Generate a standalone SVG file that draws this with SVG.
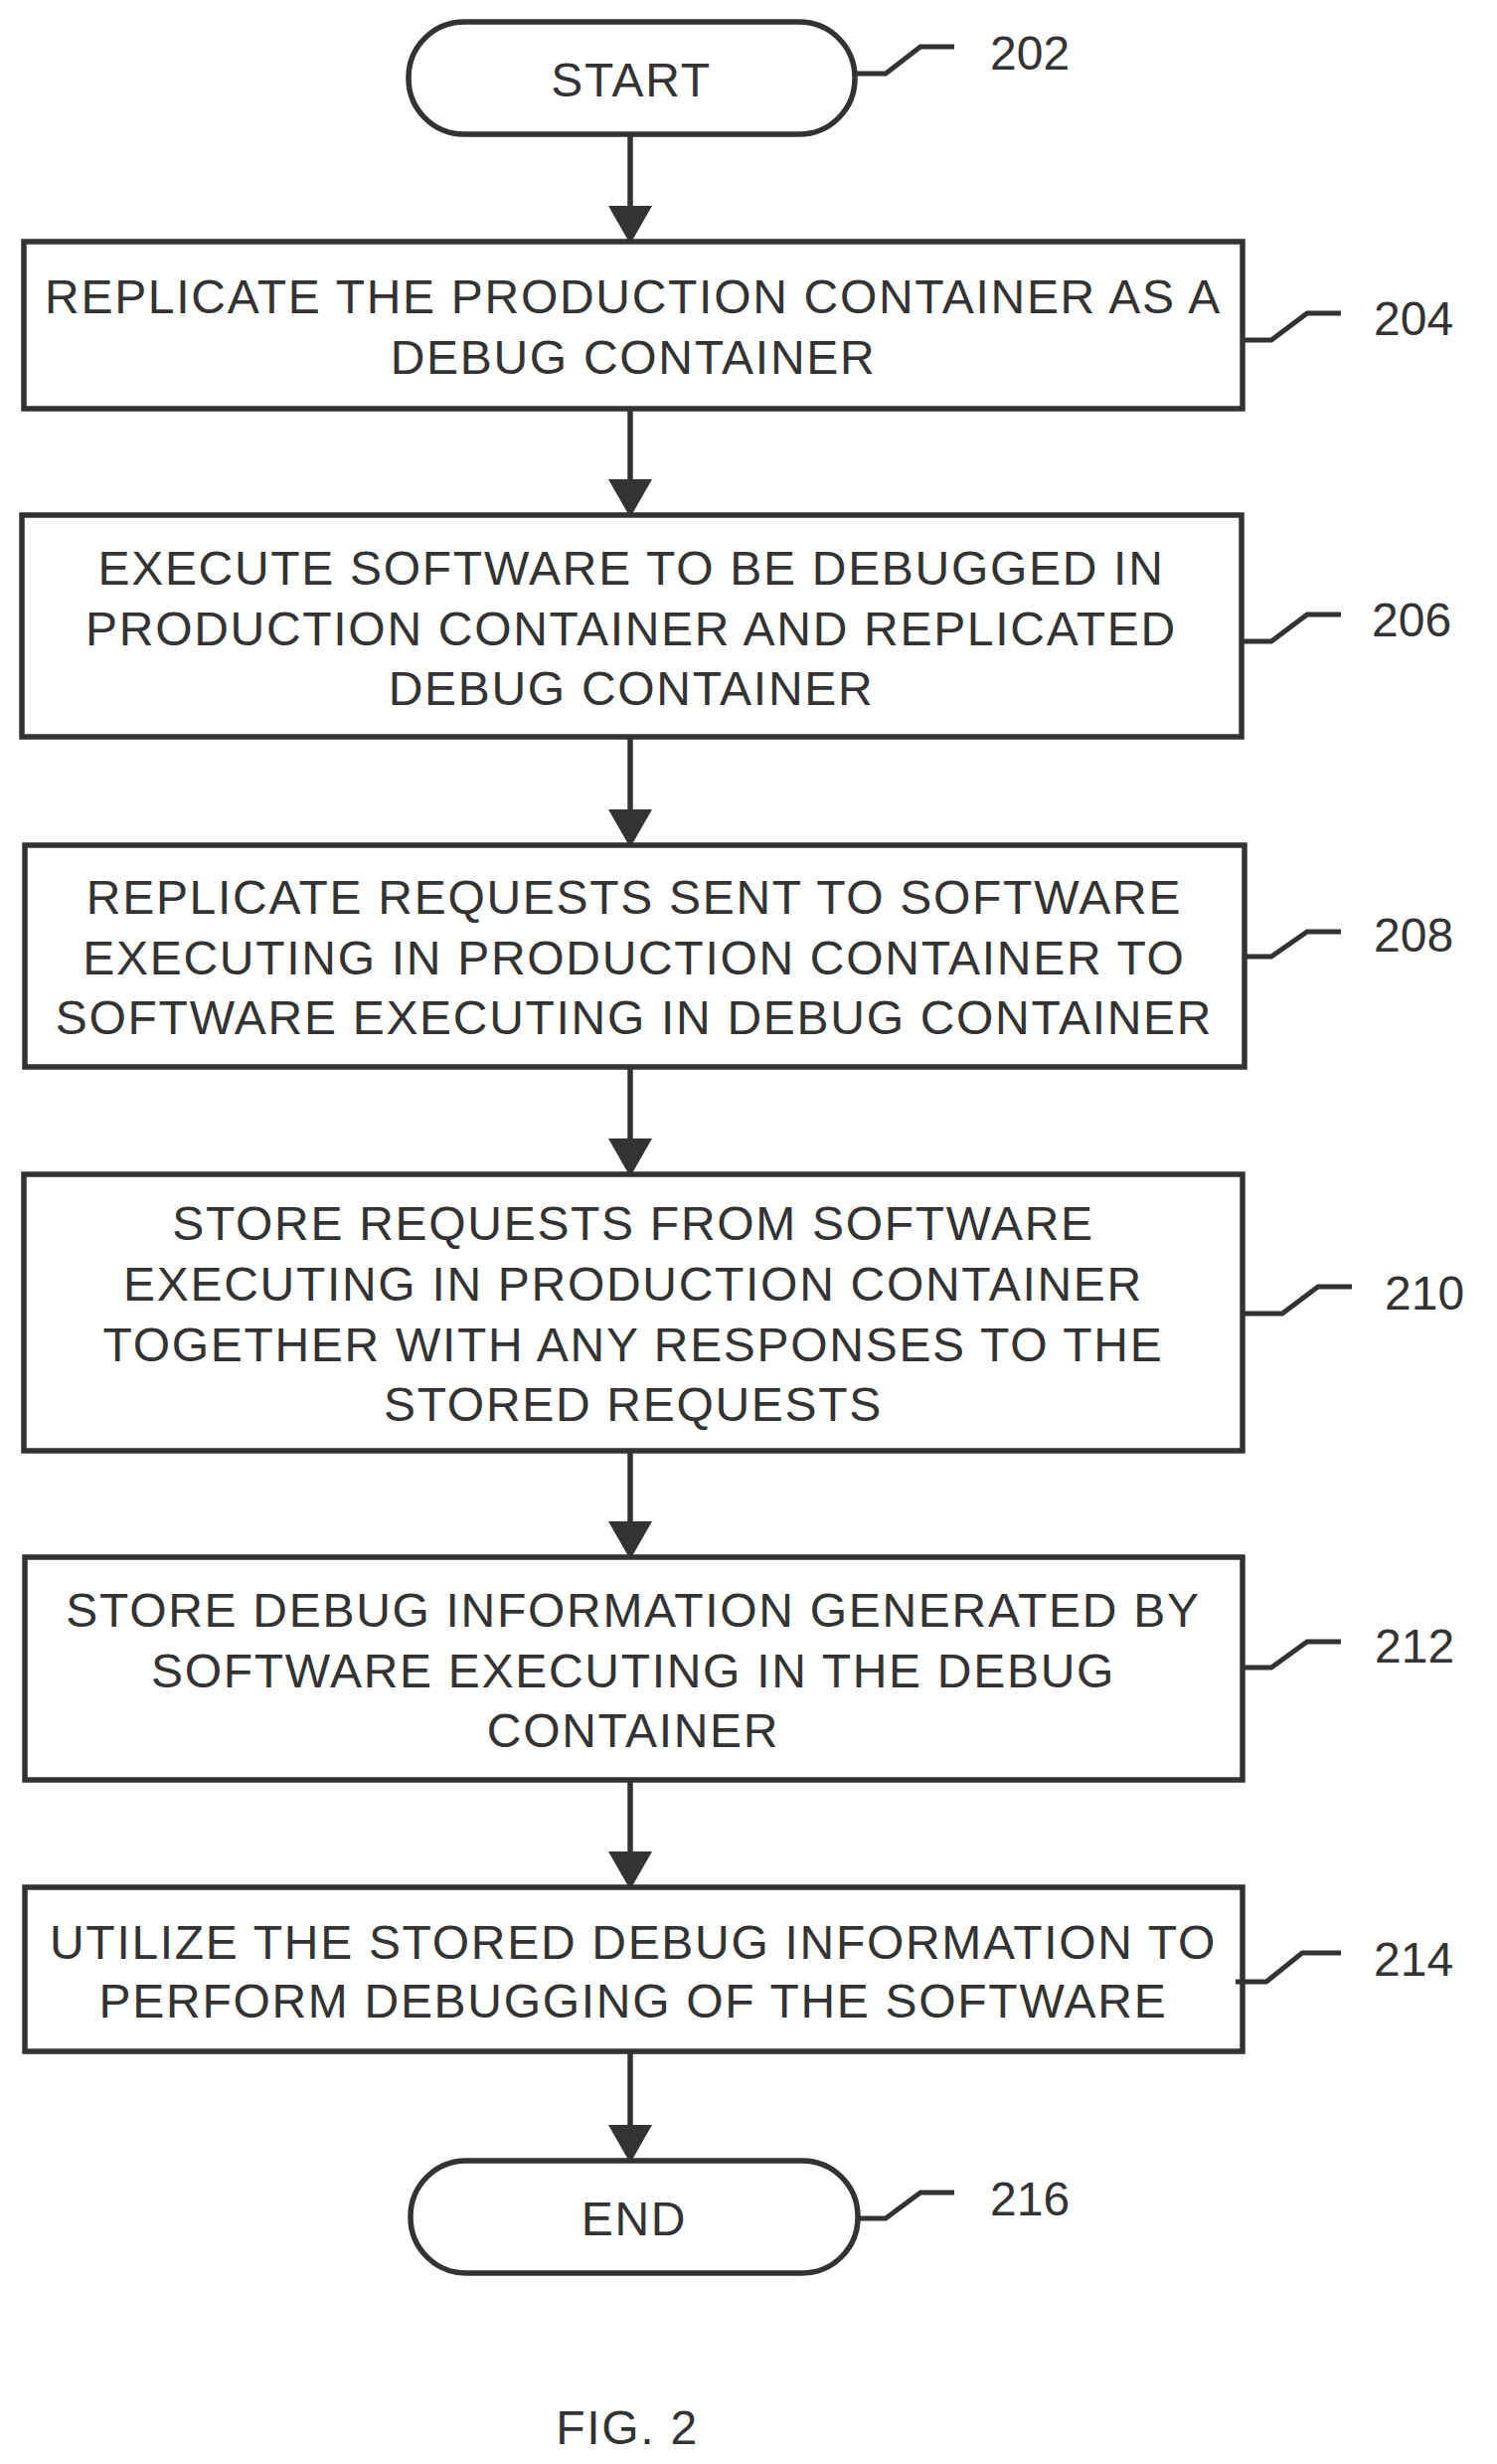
<svg xmlns="http://www.w3.org/2000/svg" width="1506" height="2478" viewBox="0 0 1506 2478">
<style>
.n{fill:#fff;stroke:#333;stroke-width:5.5}
.t{font-family:"Liberation Sans",Arial,sans-serif;font-size:48px;letter-spacing:1.7px;fill:#333;text-anchor:middle}
.l{font-family:"Liberation Sans",Arial,sans-serif;font-size:48px;fill:#333}
.c{fill:none;stroke:#333;stroke-width:5.5}
.ld{fill:none;stroke:#333;stroke-width:5}
</style>
<defs><marker id="a" markerWidth="8" markerHeight="8" refX="6" refY="4" orient="auto" markerUnits="strokeWidth"><path d="M0,0L7,4L0,8z" fill="#333"/></marker></defs>
<rect width="1506" height="2478" fill="#fff"/>
<g id="connectors">
<line class="c" x1="634" y1="135" x2="634" y2="240" marker-end="url(#a)"/>
<line class="c" x1="634" y1="411" x2="634" y2="515" marker-end="url(#a)"/>
<line class="c" x1="634" y1="741" x2="634" y2="847" marker-end="url(#a)"/>
<line class="c" x1="634" y1="1073" x2="634" y2="1178" marker-end="url(#a)"/>
<line class="c" x1="634" y1="1459" x2="634" y2="1563" marker-end="url(#a)"/>
<line class="c" x1="634" y1="1790" x2="634" y2="1895" marker-end="url(#a)"/>
<line class="c" x1="634" y1="2063" x2="634" y2="2170" marker-end="url(#a)"/>
</g>
<g id="n202"><rect class="n" x="411" y="22" width="449" height="113" rx="56"/><text class="t" x="635" y="97">START</text>
<polyline class="ld" points="860,74 891,74 926,47 960,47"/><text class="l" x="996" y="70">202</text></g>
<g id="n204"><rect class="n" x="24" y="243" width="1226" height="168"/><text class="t" x="637" y="315">REPLICATE THE PRODUCTION CONTAINER AS A</text><text class="t" x="637" y="376">DEBUG CONTAINER</text>
<polyline class="ld" points="1250,342 1279,342 1315,315 1349,315"/><text class="l" x="1382" y="337">204</text></g>
<g id="n206"><rect class="n" x="22" y="518" width="1227" height="223"/><text class="t" x="635" y="588">EXECUTE SOFTWARE TO BE DEBUGGED IN</text><text class="t" x="635" y="649">PRODUCTION CONTAINER AND REPLICATED</text><text class="t" x="635" y="709">DEBUG CONTAINER</text>
<polyline class="ld" points="1249,645 1279,645 1315,618 1349,618"/><text class="l" x="1380" y="640">206</text></g>
<g id="n208"><rect class="n" x="25" y="850" width="1227" height="223"/><text class="t" x="638" y="919">REPLICATE REQUESTS SENT TO SOFTWARE</text><text class="t" x="638" y="980">EXECUTING IN PRODUCTION CONTAINER TO</text><text class="t" x="638" y="1040">SOFTWARE EXECUTING IN DEBUG CONTAINER</text>
<polyline class="ld" points="1252,962 1279,962 1315,937 1349,937"/><text class="l" x="1382" y="957">208</text></g>
<g id="n210"><rect class="n" x="24" y="1181" width="1226" height="278"/><text class="t" x="637" y="1247">STORE REQUESTS FROM  SOFTWARE</text><text class="t" x="637" y="1308">EXECUTING IN PRODUCTION CONTAINER</text><text class="t" x="637" y="1369">TOGETHER WITH ANY RESPONSES TO THE</text><text class="t" x="637" y="1429">STORED REQUESTS</text>
<polyline class="ld" points="1250,1321 1290,1321 1326,1294 1360,1294"/><text class="l" x="1393" y="1317">210</text></g>
<g id="n212"><rect class="n" x="25" y="1566" width="1225" height="224"/><text class="t" x="637" y="1636">STORE DEBUG INFORMATION GENERATED BY</text><text class="t" x="637" y="1697">SOFTWARE EXECUTING IN THE DEBUG</text><text class="t" x="637" y="1757">CONTAINER</text>
<polyline class="ld" points="1250,1677 1279,1677 1315,1651 1349,1651"/><text class="l" x="1383" y="1672">212</text></g>
<g id="n214"><rect class="n" x="25" y="1898" width="1225" height="165"/><text class="t" x="637" y="1970">UTILIZE THE STORED DEBUG INFORMATION TO</text><text class="t" x="637" y="2029">PERFORM DEBUGGING OF THE SOFTWARE</text>
<polyline class="ld" points="1243,1993 1274,1993 1310,1964 1349,1964"/><text class="l" x="1382" y="1987">214</text></g>
<g id="n216"><rect class="n" x="413" y="2173" width="450" height="113" rx="56"/><text class="t" x="638" y="2248">END</text>
<polyline class="ld" points="863,2231 891,2231 926,2205 960,2205"/><text class="l" x="996" y="2228">216</text></g>
<text class="t" x="631" y="2458">FIG. 2</text>
</svg>
